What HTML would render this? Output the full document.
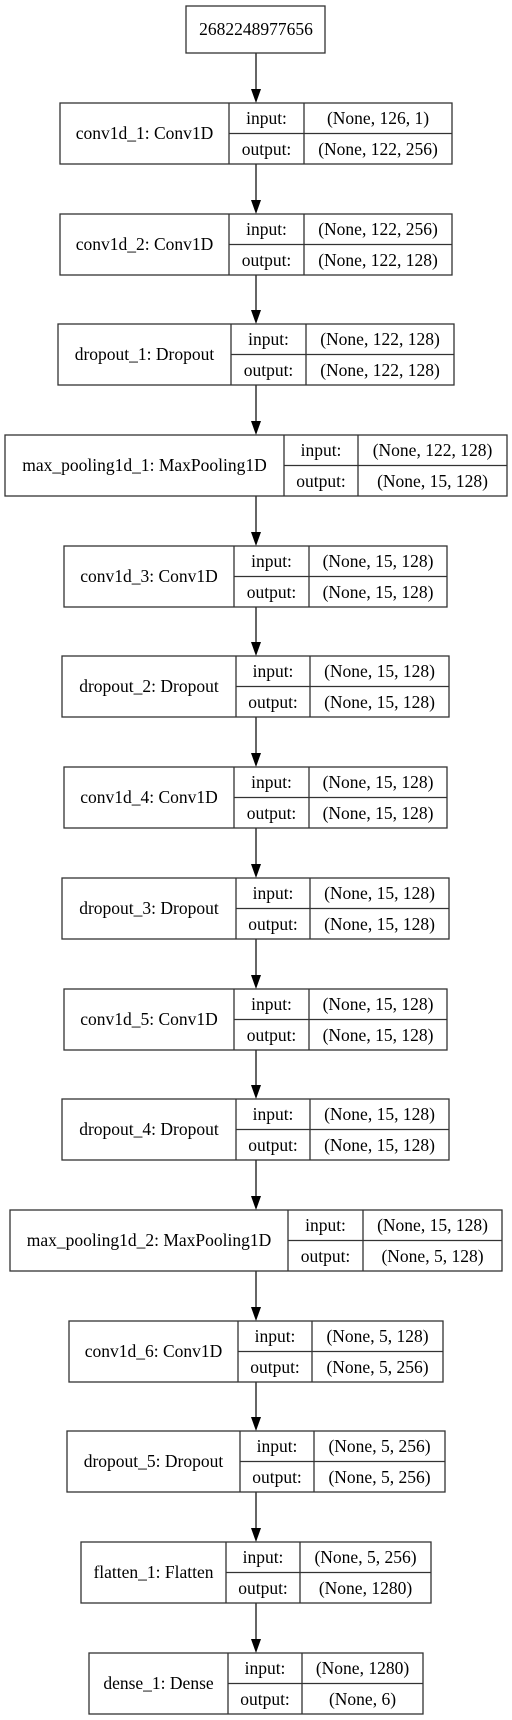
<!DOCTYPE html>
<html><head><meta charset="utf-8"><style>
html,body{margin:0;padding:0;background:#fff;}
svg{display:block;}
text{font-family:"Liberation Serif",serif;font-size:17.5px;fill:#000;text-anchor:middle;}
.b{fill:none;stroke:#333;stroke-width:1.3;}
.l{stroke:#333;stroke-width:1.5;}
</style></head><body>
<svg width="512" height="1720" xmlns="http://www.w3.org/2000/svg">
<rect x="186" y="6" width="139" height="47" class="b"/>
<text x="256" y="35">2682248977656</text>

<g class="l">
<line x1="256" y1="53" x2="256" y2="90"/>
<line x1="256" y1="164" x2="256" y2="201"/>
<line x1="256" y1="275" x2="256" y2="311"/>
<line x1="256" y1="385" x2="256" y2="422"/>
<line x1="256" y1="496" x2="256" y2="533"/>
<line x1="256" y1="607" x2="256" y2="643"/>
<line x1="256" y1="717" x2="256" y2="754"/>
<line x1="256" y1="828" x2="256" y2="865"/>
<line x1="256" y1="939" x2="256" y2="976"/>
<line x1="256" y1="1050" x2="256" y2="1086"/>
<line x1="256" y1="1160" x2="256" y2="1197"/>
<line x1="256" y1="1271" x2="256" y2="1308"/>
<line x1="256" y1="1382" x2="256" y2="1418"/>
<line x1="256" y1="1492" x2="256" y2="1529"/>
<line x1="256" y1="1603" x2="256" y2="1640"/>
</g>
<g fill="#000">
<polygon points="251,89 261,89 256,103"/>
<polygon points="251,200 261,200 256,214"/>
<polygon points="251,310 261,310 256,324"/>
<polygon points="251,421 261,421 256,435"/>
<polygon points="251,532 261,532 256,546"/>
<polygon points="251,642 261,642 256,656"/>
<polygon points="251,753 261,753 256,767"/>
<polygon points="251,864 261,864 256,878"/>
<polygon points="251,975 261,975 256,989"/>
<polygon points="251,1085 261,1085 256,1099"/>
<polygon points="251,1196 261,1196 256,1210"/>
<polygon points="251,1307 261,1307 256,1321"/>
<polygon points="251,1417 261,1417 256,1431"/>
<polygon points="251,1528 261,1528 256,1542"/>
<polygon points="251,1639 261,1639 256,1653"/>
</g>

<g transform="translate(0,103)">
<rect x="60" y="0" width="392" height="61" class="b"/><line x1="229" y1="0" x2="229" y2="61" class="b"/><line x1="304" y1="0" x2="304" y2="61" class="b"/><line x1="229" y1="30.5" x2="452" y2="30.5" class="b"/>
<text x="144.5" y="36">conv1d_1: Conv1D</text><text x="266.5" y="21">input:</text><text x="266.5" y="52">output:</text><text x="378" y="21">(None, 126, 1)</text><text x="378" y="52">(None, 122, 256)</text>
</g>
<g transform="translate(0,214)">
<rect x="60" y="0" width="392" height="61" class="b"/><line x1="229" y1="0" x2="229" y2="61" class="b"/><line x1="304" y1="0" x2="304" y2="61" class="b"/><line x1="229" y1="30.5" x2="452" y2="30.5" class="b"/>
<text x="144.5" y="36">conv1d_2: Conv1D</text><text x="266.5" y="21">input:</text><text x="266.5" y="52">output:</text><text x="378" y="21">(None, 122, 256)</text><text x="378" y="52">(None, 122, 128)</text>
</g>
<g transform="translate(0,324)">
<rect x="58" y="0" width="396" height="61" class="b"/><line x1="231" y1="0" x2="231" y2="61" class="b"/><line x1="306" y1="0" x2="306" y2="61" class="b"/><line x1="231" y1="30.5" x2="454" y2="30.5" class="b"/>
<text x="144.5" y="36">dropout_1: Dropout</text><text x="268.5" y="21">input:</text><text x="268.5" y="52">output:</text><text x="380" y="21">(None, 122, 128)</text><text x="380" y="52">(None, 122, 128)</text>
</g>
<g transform="translate(0,435)">
<rect x="5" y="0" width="502" height="61" class="b"/><line x1="284" y1="0" x2="284" y2="61" class="b"/><line x1="358" y1="0" x2="358" y2="61" class="b"/><line x1="284" y1="30.5" x2="507" y2="30.5" class="b"/>
<text x="144.5" y="36">max_pooling1d_1: MaxPooling1D</text><text x="321" y="21">input:</text><text x="321" y="52">output:</text><text x="432.5" y="21">(None, 122, 128)</text><text x="432.5" y="52">(None, 15, 128)</text>
</g>
<g transform="translate(0,546)">
<rect x="64" y="0" width="383" height="61" class="b"/><line x1="234" y1="0" x2="234" y2="61" class="b"/><line x1="309" y1="0" x2="309" y2="61" class="b"/><line x1="234" y1="30.5" x2="447" y2="30.5" class="b"/>
<text x="149" y="36">conv1d_3: Conv1D</text><text x="271.5" y="21">input:</text><text x="271.5" y="52">output:</text><text x="378" y="21">(None, 15, 128)</text><text x="378" y="52">(None, 15, 128)</text>
</g>
<g transform="translate(0,656)">
<rect x="62" y="0" width="387" height="61" class="b"/><line x1="236" y1="0" x2="236" y2="61" class="b"/><line x1="310" y1="0" x2="310" y2="61" class="b"/><line x1="236" y1="30.5" x2="449" y2="30.5" class="b"/>
<text x="149" y="36">dropout_2: Dropout</text><text x="273" y="21">input:</text><text x="273" y="52">output:</text><text x="379.5" y="21">(None, 15, 128)</text><text x="379.5" y="52">(None, 15, 128)</text>
</g>
<g transform="translate(0,767)">
<rect x="64" y="0" width="383" height="61" class="b"/><line x1="234" y1="0" x2="234" y2="61" class="b"/><line x1="309" y1="0" x2="309" y2="61" class="b"/><line x1="234" y1="30.5" x2="447" y2="30.5" class="b"/>
<text x="149" y="36">conv1d_4: Conv1D</text><text x="271.5" y="21">input:</text><text x="271.5" y="52">output:</text><text x="378" y="21">(None, 15, 128)</text><text x="378" y="52">(None, 15, 128)</text>
</g>
<g transform="translate(0,878)">
<rect x="62" y="0" width="387" height="61" class="b"/><line x1="236" y1="0" x2="236" y2="61" class="b"/><line x1="310" y1="0" x2="310" y2="61" class="b"/><line x1="236" y1="30.5" x2="449" y2="30.5" class="b"/>
<text x="149" y="36">dropout_3: Dropout</text><text x="273" y="21">input:</text><text x="273" y="52">output:</text><text x="379.5" y="21">(None, 15, 128)</text><text x="379.5" y="52">(None, 15, 128)</text>
</g>
<g transform="translate(0,989)">
<rect x="64" y="0" width="383" height="61" class="b"/><line x1="234" y1="0" x2="234" y2="61" class="b"/><line x1="309" y1="0" x2="309" y2="61" class="b"/><line x1="234" y1="30.5" x2="447" y2="30.5" class="b"/>
<text x="149" y="36">conv1d_5: Conv1D</text><text x="271.5" y="21">input:</text><text x="271.5" y="52">output:</text><text x="378" y="21">(None, 15, 128)</text><text x="378" y="52">(None, 15, 128)</text>
</g>
<g transform="translate(0,1099)">
<rect x="62" y="0" width="387" height="61" class="b"/><line x1="236" y1="0" x2="236" y2="61" class="b"/><line x1="310" y1="0" x2="310" y2="61" class="b"/><line x1="236" y1="30.5" x2="449" y2="30.5" class="b"/>
<text x="149" y="36">dropout_4: Dropout</text><text x="273" y="21">input:</text><text x="273" y="52">output:</text><text x="379.5" y="21">(None, 15, 128)</text><text x="379.5" y="52">(None, 15, 128)</text>
</g>
<g transform="translate(0,1210)">
<rect x="10" y="0" width="492" height="61" class="b"/><line x1="288" y1="0" x2="288" y2="61" class="b"/><line x1="363" y1="0" x2="363" y2="61" class="b"/><line x1="288" y1="30.5" x2="502" y2="30.5" class="b"/>
<text x="149" y="36">max_pooling1d_2: MaxPooling1D</text><text x="325.5" y="21">input:</text><text x="325.5" y="52">output:</text><text x="432.5" y="21">(None, 15, 128)</text><text x="432.5" y="52">(None, 5, 128)</text>
</g>
<g transform="translate(0,1321)">
<rect x="69" y="0" width="374" height="61" class="b"/><line x1="238" y1="0" x2="238" y2="61" class="b"/><line x1="312" y1="0" x2="312" y2="61" class="b"/><line x1="238" y1="30.5" x2="443" y2="30.5" class="b"/>
<text x="153.5" y="36">conv1d_6: Conv1D</text><text x="275" y="21">input:</text><text x="275" y="52">output:</text><text x="377.5" y="21">(None, 5, 128)</text><text x="377.5" y="52">(None, 5, 256)</text>
</g>
<g transform="translate(0,1431)">
<rect x="67" y="0" width="378" height="61" class="b"/><line x1="240" y1="0" x2="240" y2="61" class="b"/><line x1="314" y1="0" x2="314" y2="61" class="b"/><line x1="240" y1="30.5" x2="445" y2="30.5" class="b"/>
<text x="153.5" y="36">dropout_5: Dropout</text><text x="277" y="21">input:</text><text x="277" y="52">output:</text><text x="379.5" y="21">(None, 5, 256)</text><text x="379.5" y="52">(None, 5, 256)</text>
</g>
<g transform="translate(0,1542)">
<rect x="81" y="0" width="350" height="61" class="b"/><line x1="226" y1="0" x2="226" y2="61" class="b"/><line x1="300" y1="0" x2="300" y2="61" class="b"/><line x1="226" y1="30.5" x2="431" y2="30.5" class="b"/>
<text x="153.5" y="36">flatten_1: Flatten</text><text x="263" y="21">input:</text><text x="263" y="52">output:</text><text x="365.5" y="21">(None, 5, 256)</text><text x="365.5" y="52">(None, 1280)</text>
</g>
<g transform="translate(0,1653)">
<rect x="89" y="0" width="334" height="61" class="b"/><line x1="228" y1="0" x2="228" y2="61" class="b"/><line x1="302" y1="0" x2="302" y2="61" class="b"/><line x1="228" y1="30.5" x2="423" y2="30.5" class="b"/>
<text x="158.5" y="36">dense_1: Dense</text><text x="265" y="21">input:</text><text x="265" y="52">output:</text><text x="362.5" y="21">(None, 1280)</text><text x="362.5" y="52">(None, 6)</text>
</g>
</svg>
</body></html>
